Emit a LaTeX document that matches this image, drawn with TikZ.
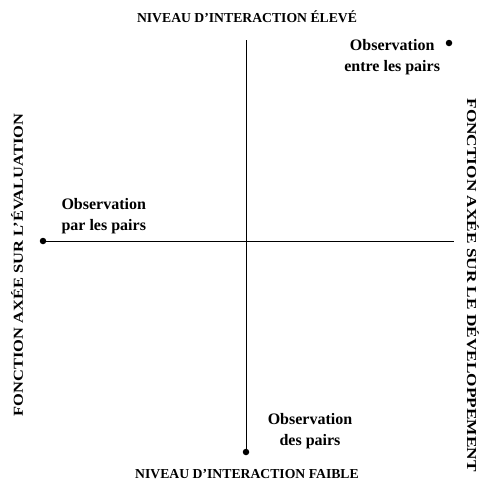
\documentclass[tikz,border=0pt]{standalone}
\usepackage{fontspec}
\setmainfont{Liberation Serif}
\usetikzlibrary{positioning}
\tikzset{
  axislabel/.style={font=\bfseries\fontsize{13.7}{15}\selectfont},
  pointlabel/.style={font=\bfseries\fontsize{16}{21}\selectfont,align=center},
  pt/.style={circle,fill=black,inner sep=0pt,minimum size=6.5pt}
}

\begin{document}
\begin{tikzpicture}[x=1pt,y=-1pt]
            \useasboundingbox (0,0) rectangle (481,480);
            % Axes
            \node[pt] (low) at (246,452) {};
            \node[pt] (left) at (43,241) {};
            \coordinate (top) at (246,40);
            \coordinate (right) at (454,241);
            \draw (left.center) -- (right);
            \draw (low.center) -- (top);

            % Axis labels
            \node[axislabel] (high) at (247,17) {NIVEAU D’INTERACTION ÉLEVÉ};
            \node[axislabel] (faible) at (247,474) {NIVEAU D’INTERACTION FAIBLE};
            \node[axislabel,rotate=90] (eval) at (17,265) {\scalebox{1.2}[1]{FONCTION AXÉE SUR L’ÉVALUATION}};
            \node[axislabel,rotate=-90] (dev) at (473,285) {\scalebox{1.26}[1]{FONCTION AXÉE SUR LE DÉVELOPPEMENT}};

            % Observation types
            \node[pt] (entre) at (449,43) {};
            \node[pointlabel,left=2pt of entre,anchor=north east,yshift=7pt] (entretxt) {Observation\\entre les pairs};
            \node[pointlabel,align=left,anchor=south west] (partxt) at (58,237) {Observation\\par les pairs};
            \node[pointlabel] (destxt) at (310,431) {Observation\\des pairs};
\end{tikzpicture}
\end{document}
